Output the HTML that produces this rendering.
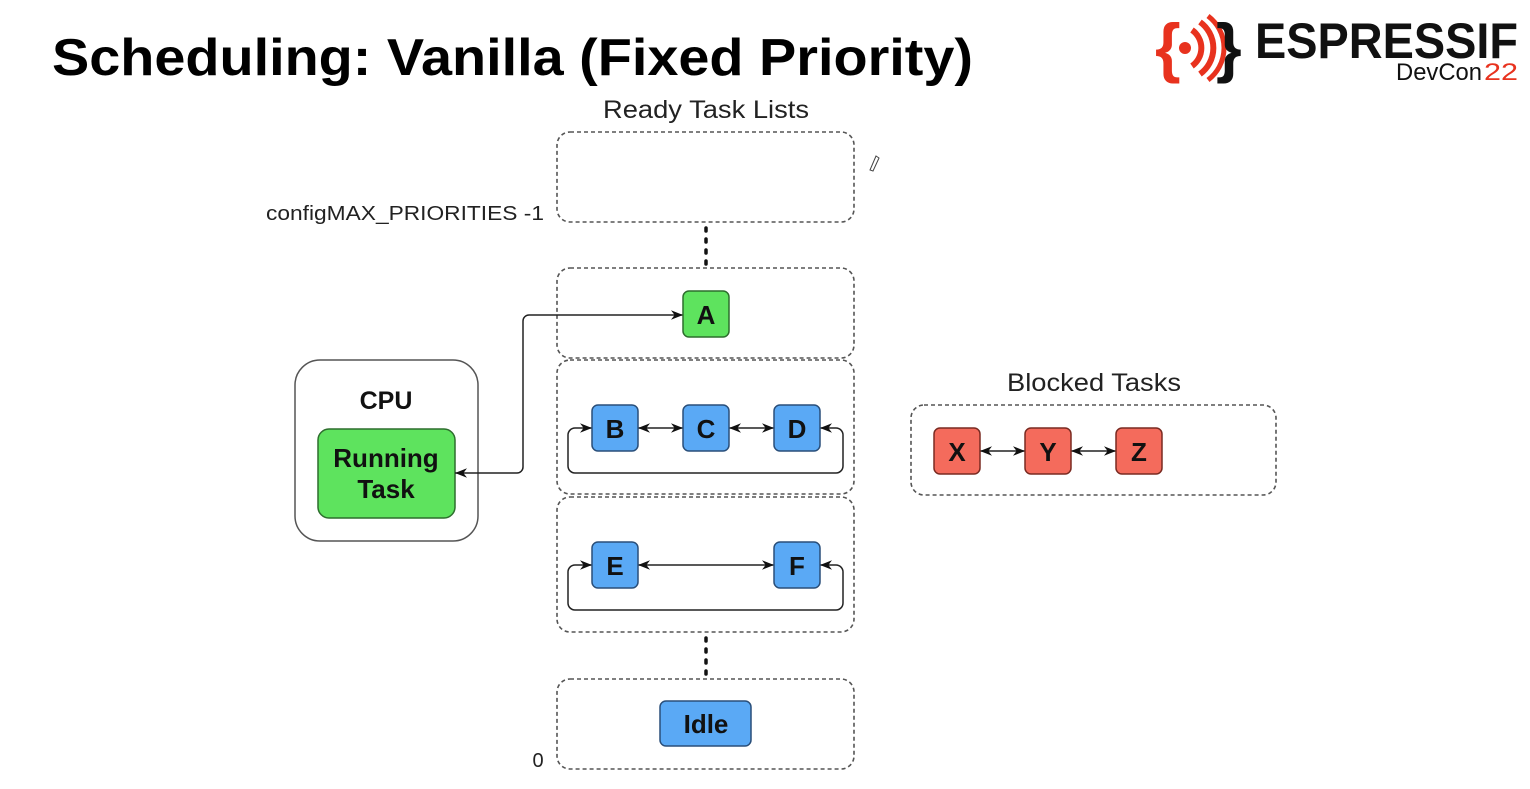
<!DOCTYPE html>
<html><head><style>
html,body{margin:0;padding:0;background:#fff;}
svg{display:block}
text{font-family:"Liberation Sans",Arial,sans-serif}
</style></head><body>
<svg width="1530" height="789" viewBox="0 0 1530 789" xmlns="http://www.w3.org/2000/svg">
<defs>
<marker id="ah" viewBox="0 0 10 10" refX="10" refY="5" markerWidth="8" markerHeight="8" orient="auto-start-reverse"><path d="M0,1 L10,5 L0,9 L3,5 Z" fill="#111"/></marker>
</defs>
<text x="52" y="75" font-size="52" font-weight="bold" fill="#000" textLength="921" lengthAdjust="spacingAndGlyphs">Scheduling: Vanilla (Fixed Priority)</text>
<!-- logo -->
<text x="1155" y="70" font-size="66" fill="#e8321e" font-weight="bold">{</text>
<g fill="#e8321e"><circle cx="1185" cy="48" r="6"/><path d="M1192,30 a22,22 0 0 1 0,36" stroke="#e8321e" stroke-width="6" fill="none"/><path d="M1200,22 a32,32 0 0 1 0,52" stroke="#e8321e" stroke-width="6" fill="none"/><path d="M1208,16 a40,40 0 0 1 0,64" stroke="#e8321e" stroke-width="5" fill="none"/></g>
<text x="1216" y="70" font-size="66" fill="#111" font-weight="bold">}</text>
<text x="1255" y="58" font-size="50" fill="#111" font-weight="bold" textLength="263" lengthAdjust="spacingAndGlyphs">ESPRESSIF</text>
<text x="1396" y="80" font-size="24" fill="#111" textLength="86" lengthAdjust="spacingAndGlyphs">DevCon</text><text x="1484" y="80" font-size="24" fill="#e8321e" textLength="34" lengthAdjust="spacingAndGlyphs">22</text>

<text x="603" y="118" font-size="25" fill="#222" textLength="206" lengthAdjust="spacingAndGlyphs">Ready Task Lists</text>
<text x="266" y="220" font-size="20" fill="#222" textLength="278" lengthAdjust="spacingAndGlyphs">configMAX_PRIORITIES -1</text>
<text x="538" y="767" font-size="20" text-anchor="middle" fill="#222">0</text>
<g fill="none" stroke="#555" stroke-width="1.6" stroke-dasharray="4,3">
<rect x="557" y="132" width="297" height="90" rx="13"/>
<rect x="557" y="268" width="297" height="90" rx="13"/>
<rect x="557" y="360" width="297" height="134" rx="13"/>
<rect x="557" y="497" width="297" height="135" rx="13"/>
<rect x="557" y="679" width="297" height="90" rx="13"/>
<rect x="911" y="405" width="365" height="90" rx="13"/>
</g>
<g stroke="#111" stroke-width="3.5" stroke-dasharray="3,8" stroke-linecap="round">
<line x1="706" y1="228" x2="706" y2="265"/><line x1="706" y1="638" x2="706" y2="675"/>
</g>
<path d="M870,170 l6,-14 l3,2 l-6,13 z" fill="none" stroke="#444" stroke-width="1"/>
<!-- CPU -->
<rect x="295" y="360" width="183" height="181" rx="25" fill="#fff" stroke="#555" stroke-width="1.5"/>
<text x="386" y="409" font-size="25" font-weight="bold" text-anchor="middle" fill="#111">CPU</text>
<rect x="318" y="429" width="137" height="89" rx="11" fill="#5ee35e" stroke="#2d6e2d" stroke-width="1.5"/>
<text x="386" y="467" font-size="26" font-weight="bold" text-anchor="middle" fill="#111">Running</text>
<text x="386" y="498" font-size="26" font-weight="bold" text-anchor="middle" fill="#111">Task</text>
<!-- connectors -->
<g fill="none" stroke="#222" stroke-width="1.5">
<path d="M455,473 H517 a6,6 0 0 0 6,-6 V321 a6,6 0 0 1 6,-6 H683" marker-start="url(#ah)" marker-end="url(#ah)"/>
<line x1="638" y1="428" x2="683" y2="428" marker-start="url(#ah)" marker-end="url(#ah)"/>
<line x1="729" y1="428" x2="774" y2="428" marker-start="url(#ah)" marker-end="url(#ah)"/>
<path d="M820,428 H836 a7,7 0 0 1 7,7 V466 a7,7 0 0 1 -7,7 H575 a7,7 0 0 1 -7,-7 V435 a7,7 0 0 1 7,-7 H592" marker-start="url(#ah)" marker-end="url(#ah)"/>
<line x1="638" y1="565" x2="774" y2="565" marker-start="url(#ah)" marker-end="url(#ah)"/>
<path d="M820,565 H836 a7,7 0 0 1 7,7 V603 a7,7 0 0 1 -7,7 H575 a7,7 0 0 1 -7,-7 V572 a7,7 0 0 1 7,-7 H592" marker-start="url(#ah)" marker-end="url(#ah)"/>
<line x1="980" y1="451" x2="1025" y2="451" marker-start="url(#ah)" marker-end="url(#ah)"/>
<line x1="1071" y1="451" x2="1116" y2="451" marker-start="url(#ah)" marker-end="url(#ah)"/>
</g>
<!-- nodes -->
<g stroke-width="1.5" font-size="26" font-weight="bold" text-anchor="middle">
<rect x="683" y="291" width="46" height="46" rx="6" fill="#5ee35e" stroke="#2d6e2d"/><text x="706" y="324" fill="#111">A</text>
<rect x="592" y="405" width="46" height="46" rx="6" fill="#5aa9f5" stroke="#2a4f7a"/><text x="615" y="438" fill="#111">B</text>
<rect x="683" y="405" width="46" height="46" rx="6" fill="#5aa9f5" stroke="#2a4f7a"/><text x="706" y="438" fill="#111">C</text>
<rect x="774" y="405" width="46" height="46" rx="6" fill="#5aa9f5" stroke="#2a4f7a"/><text x="797" y="438" fill="#111">D</text>
<rect x="592" y="542" width="46" height="46" rx="6" fill="#5aa9f5" stroke="#2a4f7a"/><text x="615" y="575" fill="#111">E</text>
<rect x="774" y="542" width="46" height="46" rx="6" fill="#5aa9f5" stroke="#2a4f7a"/><text x="797" y="575" fill="#111">F</text>
<rect x="660" y="701" width="91" height="45" rx="6" fill="#5aa9f5" stroke="#2a4f7a"/><text x="706" y="733" fill="#111">Idle</text>
<rect x="934" y="428" width="46" height="46" rx="6" fill="#f46b5c" stroke="#7a2b22"/><text x="957" y="461" fill="#111">X</text>
<rect x="1025" y="428" width="46" height="46" rx="6" fill="#f46b5c" stroke="#7a2b22"/><text x="1048" y="461" fill="#111">Y</text>
<rect x="1116" y="428" width="46" height="46" rx="6" fill="#f46b5c" stroke="#7a2b22"/><text x="1139" y="461" fill="#111">Z</text>
</g>
<text x="1007" y="391" font-size="25" fill="#222" textLength="174" lengthAdjust="spacingAndGlyphs">Blocked Tasks</text>
</svg>
</body></html>
